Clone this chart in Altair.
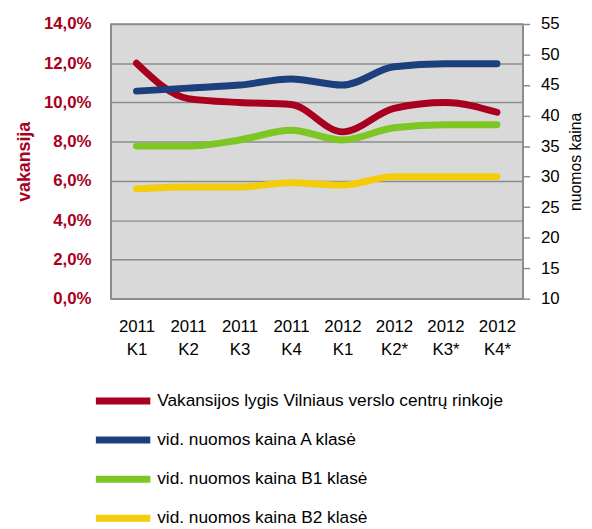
import altair as alt
import pandas as pd

quarters = ["2011 K1", "2011 K2", "2011 K3", "2011 K4", "2012 K1", "2012 K2*", "2012 K3*", "2012 K4*"]
vakansija = [12.0, 10.2, 10.0, 9.9, 8.5, 9.7, 10.0, 9.5]
kaina_a = [44.0, 44.5, 45.0, 46.0, 45.0, 48.0, 48.5, 48.5]
kaina_b1 = [35.0, 35.0, 36.0, 37.6, 36.0, 38.0, 38.5, 38.5]
kaina_b2 = [28.0, 28.3, 28.3, 29.0, 28.6, 30.0, 30.0, 30.0]

series_names = [
    "Vakansijos lygis Vilniaus verslo centrų rinkoje",
    "vid. nuomos kaina A klasė",
    "vid. nuomos kaina B1 klasė",
    "vid. nuomos kaina B2 klasė",
]
series_colors = ["#A8001E", "#1C3F7E", "#7DC623", "#F5CC0A"]

rows = []
for name, vals in zip(series_names, [vakansija, kaina_a, kaina_b1, kaina_b2]):
    for q, v in zip(quarters, vals):
        rows.append({"quarter": q, "series": name, "value": v})
df = pd.DataFrame(rows)

FONT = "Liberation Sans"

x_enc = alt.X(
    "quarter:N",
    sort=quarters,
    scale=alt.Scale(domain=quarters, padding=0.5),
    axis=alt.Axis(
        title=None,
        labelExpr="split(datum.label, ' ')",
        labelAngle=0,
        labelFontSize=17,
        labelFont=FONT,
        labelColor="#000000",
        labelLineHeight=23.5,
        labelPadding=20,
        ticks=False,
        domainColor="#8C8C8C",
        domainWidth=1.5,
        grid=False,
    ),
)

color_enc = alt.Color(
    "series:N",
    scale=alt.Scale(domain=series_names, range=series_colors),
    sort=series_names,
    legend=alt.Legend(
        title=None,
        orient="none",
        legendX=-10,
        legendY=359,
        direction="vertical",
        symbolType="M-1.45,0H1.45",
        symbolSize=1444,
        symbolStrokeWidth=7,
        labelFontSize=17.5,
        labelFont=FONT,
        labelColor="#000000",
        rowPadding=2.6,
        labelOffset=12,
        labelLimit=500,
    ),
)

base = alt.Chart(df)

left = base.transform_filter(alt.datum.series == series_names[0]).mark_line(
    interpolate="monotone", strokeWidth=7, strokeCap="round"
).encode(
    x=x_enc,
    y=alt.Y(
        "value:Q",
        scale=alt.Scale(domain=[0, 14], nice=False),
        axis=alt.Axis(
            title="vakansija",
            titleColor="#A8001E",
            titleFontSize=18,
            titleFont=FONT,
            titleFontWeight="bold",
            titlePadding=10,
            values=[0, 2, 4, 6, 8, 10, 12, 14],
            labelExpr="replace(format(datum.value, '.1f'), '.', ',') + '%'",
            labelColor="#A8001E",
            labelFontSize=17,
            labelFont=FONT,
            labelFontWeight="bold",
            labelPadding=20,
            ticks=False,
            domainColor="#8C8C8C",
            domainWidth=1.5,
            grid=True,
            gridColor="#8C8C8C",
            gridWidth=1.5,
        ),
    ),
    color=color_enc,
)

right = base.transform_filter(alt.datum.series != series_names[0]).mark_line(
    interpolate="monotone", strokeWidth=7, strokeCap="round"
).encode(
    x=x_enc,
    y=alt.Y(
        "value:Q",
        scale=alt.Scale(domain=[10, 55], nice=False),
        axis=alt.Axis(
            orient="right",
            title="nuomos kaina",
            titleAngle=270,
            titleBaseline="top",
            titleColor="#000000",
            titleFontSize=16,
            titleFont=FONT,
            titleFontWeight="normal",
            titlePadding=9,
            values=[10, 15, 20, 25, 30, 35, 40, 45, 50, 55],
            labelColor="#000000",
            labelFontSize=17,
            labelFont=FONT,
            labelPadding=11,
            tickSize=7,
            tickColor="#8C8C8C",
            tickWidth=1.5,
            domainColor="#8C8C8C",
            domainWidth=1.5,
            grid=False,
        ),
    ),
    color=color_enc,
)

chart = alt.layer(left, right).resolve_scale(y="independent").properties(
    width=417,
    height=278,
    padding={"left": 7, "top": 4, "right": 0, "bottom": 0},
    background="#FFFFFF",
).configure_view(
    fill="#D9D9D9",
    stroke="#8C8C8C",
    strokeWidth=1.5,
)

chart.save("out.html", embed_options={"renderer": "svg", "actions": False})
